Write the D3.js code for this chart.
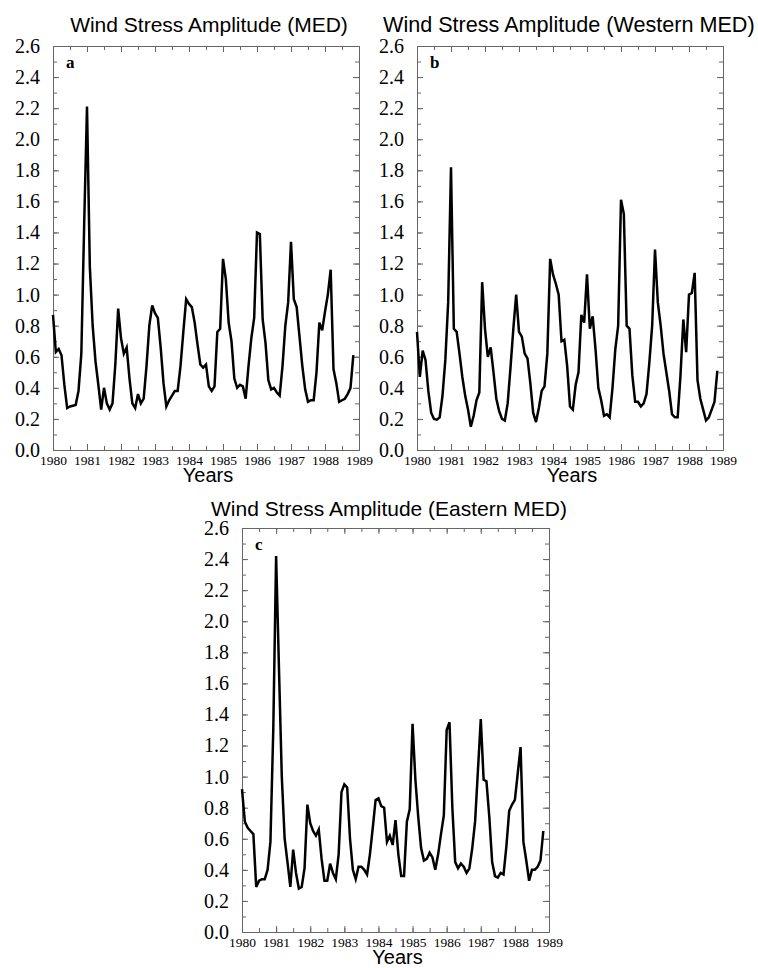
<!DOCTYPE html>
<html>
<head>
<meta charset="utf-8">
<script src="https://cdn.jsdelivr.net/npm/d3@7"></script>
<style>
body { margin: 0; background: #fff; }
.serif { font-family: "Liberation Serif", "DejaVu Serif", serif; }
.sans { font-family: "Liberation Sans", Arial, sans-serif; }
</style>
</head>
<body>
<script>
// monthly wind stress amplitude, Jan 1980 .. Nov 1988
var medValues = [
  0.87, 0.63, 0.65, 0.61, 0.42, 0.27, 0.28, 0.285, 0.29, 0.38, 0.62, 1.45,
  2.21, 1.18, 0.80, 0.57, 0.42, 0.26, 0.40, 0.30, 0.26, 0.30, 0.55, 0.91,
  0.72, 0.62, 0.66, 0.46, 0.30, 0.27, 0.36, 0.30, 0.33, 0.54, 0.80, 0.93,
  0.88, 0.85, 0.66, 0.43, 0.28, 0.32, 0.35, 0.38, 0.38, 0.54, 0.76, 0.97,
  0.94, 0.92, 0.82, 0.68, 0.55, 0.53, 0.55, 0.41, 0.38, 0.41, 0.76, 0.78,
  1.23, 1.10, 0.82, 0.70, 0.46, 0.40, 0.42, 0.41, 0.33, 0.54, 0.72, 0.85,
  1.40, 1.39, 0.84, 0.69, 0.45, 0.39, 0.40, 0.37, 0.35, 0.54, 0.80, 0.95,
  1.34, 0.97, 0.92, 0.73, 0.54, 0.39, 0.31, 0.32, 0.32, 0.50, 0.82, 0.77,
  0.89, 1.00, 1.16, 0.52, 0.43, 0.31, 0.32, 0.33, 0.36, 0.40, 0.61
];
var westernValues = [
  0.76, 0.47, 0.64, 0.58, 0.38, 0.24, 0.20, 0.195, 0.21, 0.35, 0.58, 0.95,
  1.82, 0.78, 0.76, 0.62, 0.47, 0.35, 0.26, 0.15, 0.22, 0.32, 0.37, 1.08,
  0.78, 0.60, 0.66, 0.50, 0.33, 0.25, 0.20, 0.19, 0.30, 0.53, 0.78, 1.00,
  0.76, 0.73, 0.62, 0.59, 0.43, 0.24, 0.18, 0.27, 0.38, 0.41, 0.62, 1.23,
  1.13, 1.07, 1.00, 0.70, 0.71, 0.54, 0.28, 0.26, 0.42, 0.50, 0.87, 0.82,
  1.13, 0.78, 0.86, 0.65, 0.40, 0.32, 0.22, 0.23, 0.21, 0.40, 0.65, 0.80,
  1.61, 1.52, 0.80, 0.78, 0.48, 0.31, 0.31, 0.28, 0.30, 0.36, 0.56, 0.80,
  1.29, 0.95, 0.80, 0.62, 0.50, 0.38, 0.23, 0.21, 0.21, 0.48, 0.84, 0.63,
  1.00, 1.01, 1.14, 0.45, 0.33, 0.26, 0.19, 0.21, 0.26, 0.31, 0.51
];
var easternValues = [
  0.92, 0.71, 0.67, 0.65, 0.63, 0.29, 0.33, 0.34, 0.34, 0.40, 0.58, 1.30,
  2.42, 1.70, 1.00, 0.60, 0.45, 0.29, 0.53, 0.38, 0.28, 0.29, 0.41, 0.82,
  0.70, 0.65, 0.62, 0.66, 0.47, 0.33, 0.33, 0.44, 0.38, 0.34, 0.50, 0.90,
  0.95, 0.93, 0.60, 0.40, 0.34, 0.42, 0.42, 0.40, 0.37, 0.50, 0.67, 0.85,
  0.86, 0.81, 0.80, 0.58, 0.62, 0.56, 0.72, 0.50, 0.36, 0.36, 0.71, 0.79,
  1.34, 0.98, 0.74, 0.54, 0.46, 0.47, 0.51, 0.48, 0.40, 0.50, 0.63, 0.75,
  1.30, 1.35, 0.80, 0.45, 0.41, 0.44, 0.42, 0.38, 0.41, 0.54, 0.71, 1.04,
  1.37, 0.98, 0.97, 0.74, 0.45, 0.36, 0.35, 0.38, 0.37, 0.55, 0.78, 0.82,
  0.85, 1.02, 1.19, 0.58, 0.46, 0.33, 0.40, 0.40, 0.42, 0.46, 0.65
];
var startYear = 1980;
var yearTicks = [1980, 1981, 1982, 1983, 1984, 1985, 1986, 1987, 1988, 1989];
var yTicks = [0.0, 0.2, 0.4, 0.6, 0.8, 1.0, 1.2, 1.4, 1.6, 1.8, 2.0, 2.2, 2.4, 2.6];
var titles = ["Wind Stress Amplitude (MED)", "Wind Stress Amplitude (Western MED)", "Wind Stress Amplitude (Eastern MED)"];
var letters = ["a", "b", "c"];
var seriesList = [medValues, westernValues, easternValues];

// panel placement
var frames = [
  {x: 53, y: 46, w: 306, h: 404, tx: 209, ty: 32, anchor: "middle"},
  {x: 417, y: 46, w: 306, h: 404, tx: 383, ty: 32, anchor: "start"},
  {x: 242, y: 528, w: 307, h: 404, tx: 389, ty: 516, anchor: "middle"}
];

var svg = d3.select("body").append("svg")
    .attr("width", 758)
    .attr("height", 968);

var halfTicks = d3.range(0, 19).map(function(k) { return startYear + k / 2; });
var minorY = d3.range(0, 27).map(function(k) { return k / 10; });

frames.forEach(function(f, p) {
  var xScale = d3.scaleLinear().domain([1980, 1989]).range([0, f.w]);
  var yScale = d3.scaleLinear().domain([0, 2.6]).range([f.h, 0]);

  // title
  svg.append("text")
      .attr("class", "sans")
      .attr("x", f.tx).attr("y", f.ty)
      .attr("text-anchor", f.anchor)
      .style("font-size", p == 1 ? "21.6px" : "21px")
      .text(titles[p]);

  var g = svg.append("g").attr("transform", "translate(" + f.x + "," + f.y + ")");

  // minor ticks (inward, all four sides)
  g.append("g").attr("class", "ax").attr("transform", "translate(0," + f.h + ")")
      .call(d3.axisBottom(xScale).tickValues(halfTicks).tickSize(-4).tickSizeOuter(0).tickFormat(""));
  g.append("g").attr("class", "ax")
      .call(d3.axisTop(xScale).tickValues(halfTicks).tickSize(-4).tickSizeOuter(0).tickFormat(""));
  g.append("g").attr("class", "ax")
      .call(d3.axisLeft(yScale).tickValues(minorY).tickSize(-4).tickSizeOuter(0).tickFormat(""));
  g.append("g").attr("class", "ax").attr("transform", "translate(" + f.w + ",0)")
      .call(d3.axisRight(yScale).tickValues(minorY).tickSize(-4).tickSizeOuter(0).tickFormat(""));

  // labelled ticks
  var xAx = g.append("g").attr("class", "ax").attr("transform", "translate(0," + f.h + ")")
      .call(d3.axisBottom(xScale).tickValues(yearTicks).tickSize(-6).tickSizeOuter(0)
        .tickPadding(5).tickFormat(d3.format("d")));
  xAx.attr("font-family", null).attr("font-size", null);
  xAx.selectAll("text").attr("class", "serif").style("font-size", "13.5px");

  var yAx = g.append("g").attr("class", "ax")
      .call(d3.axisLeft(yScale).tickValues(yTicks).tickSize(-6).tickSizeOuter(0)
        .tickPadding(13).tickFormat(d3.format(".1f")));
  yAx.attr("font-family", null).attr("font-size", null);
  yAx.selectAll("text").attr("class", "serif").style("font-size", "20px");

  g.append("g").attr("class", "ax").attr("transform", "translate(" + f.w + ",0)")
      .call(d3.axisRight(yScale).tickValues(yTicks).tickSize(-6).tickSizeOuter(0).tickFormat(""));
  g.append("g").attr("class", "ax")
      .call(d3.axisTop(xScale).tickValues(yearTicks).tickSize(-6).tickSizeOuter(0).tickFormat(""));

  g.selectAll(".ax path.domain").attr("stroke", "#666").attr("stroke-width", 1);
  g.selectAll(".ax line").attr("stroke", "#666");
  g.selectAll(".ax text").attr("fill", "#000");

  // data line
  var line = d3.line()
      .x(function(d, i) { return xScale(startYear + i / 12); })
      .y(function(d) { return yScale(d); });

  g.append("path")
      .datum(seriesList[p])
      .attr("fill", "none")
      .attr("stroke", "#000")
      .attr("stroke-width", 2.5)
      .attr("stroke-linejoin", "miter")
      .attr("d", line);

  // panel letter
  g.append("text")
      .attr("class", "serif")
      .attr("x", 13).attr("y", 22)
      .style("font-size", "17px").style("font-weight", "bold")
      .text(letters[p]);

  // x axis title
  svg.append("text")
      .attr("class", "sans")
      .attr("x", f.x + f.w / 2 + 2).attr("y", f.y + f.h + 32)
      .attr("text-anchor", "middle")
      .style("font-size", "20px")
      .text("Years");
});
</script>
</body>
</html>
